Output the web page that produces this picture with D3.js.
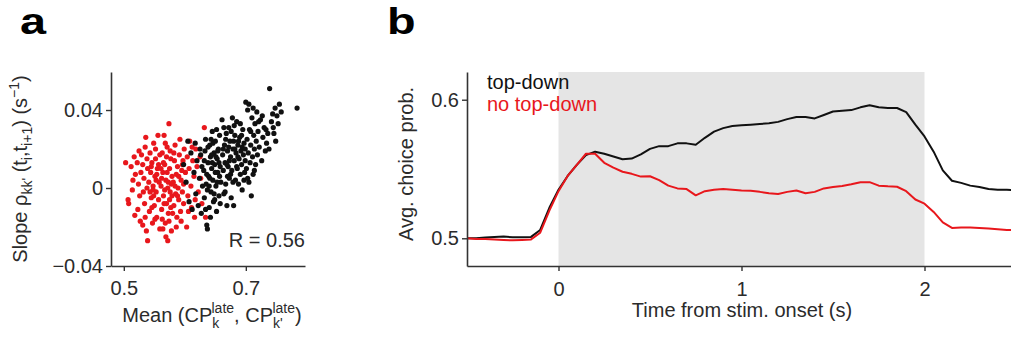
<!DOCTYPE html>
<html><head><meta charset="utf-8">
<script src="https://cdn.jsdelivr.net/npm/d3@7"></script>
<style>
html,body{margin:0;padding:0;background:#fff;}
svg text{font-family:"Liberation Sans",Arial,sans-serif;fill:#2b2b2b;}
</style></head>
<body><svg id="c" width="1011" height="338"></svg>
<script>
// ---------- Panel a data ----------
const redPoints = [
[0.503,0.013],[0.507,-0.006],[0.508,-0.008],[0.512,0.011],[0.515,0.004],[0.518,-0.014],[0.514,-0.001],[0.519,0.007],[0.517,0.016],
[0.522,0.013],[0.524,0.002],[0.526,-0.004],[0.523,-0.011],[0.528,0.008],[0.527,-0.017],[0.529,0.017],[0.531,0.012],[0.532,-0.002],[0.533,0.005],[0.534,-0.008],[0.535,0.021],[0.536,0.026],[0.537,-0.022],[0.538,0.000],[0.539,0.010],[0.535,-0.015],[0.531,-0.019],[0.525,0.019],[0.539,-0.027],[0.538,0.015],
[0.541,0.003],[0.542,-0.012],[0.543,0.018],[0.544,0.008],[0.545,-0.005],[0.546,0.013],[0.547,-0.018],[0.548,0.001],[0.549,0.023],[0.550,-0.009],[0.551,0.006],[0.552,0.015],[0.553,-0.002],[0.554,-0.015],[0.555,0.010],[0.556,0.027],[0.557,-0.006],[0.558,0.003],[0.559,-0.021],[0.545,0.011],[0.548,-0.001],[0.552,0.020],[0.543,-0.002],[0.557,0.012],[0.553,0.004],[0.551,-0.016],[0.559,0.017],[0.546,-0.010],[0.554,0.007],[0.549,-0.004],
[0.561,0.001],[0.562,-0.011],[0.563,0.018],[0.564,0.008],[0.565,-0.004],[0.566,0.027],[0.567,0.012],[0.568,-0.018],[0.569,0.004],[0.570,-0.008],[0.571,0.021],[0.572,0.000],[0.573,-0.013],[0.574,0.033],[0.575,0.010],[0.576,-0.002],[0.577,0.015],[0.578,-0.022],[0.579,0.006],[0.563,-0.016],[0.565,0.013],[0.567,-0.001],[0.569,-0.025],[0.571,0.008],[0.573,0.003],[0.575,-0.006],[0.577,-0.010],[0.562,0.005],[0.566,-0.008],[0.570,0.016],[0.574,-0.017],[0.578,0.002],[0.568,0.023],[0.564,-0.021],[0.576,0.019],[0.572,-0.027],[0.561,0.010],[0.579,-0.004],
[0.581,0.003],[0.582,-0.009],[0.583,0.014],[0.584,0.022],[0.585,-0.003],[0.586,0.007],[0.587,-0.015],[0.588,0.011],[0.589,0.000],[0.590,-0.006],[0.591,0.017],[0.592,0.025],[0.593,-0.012],[0.594,0.004],[0.595,0.009],[0.596,-0.002],[0.597,0.014],[0.598,-0.008],[0.599,0.020],[0.582,0.018],[0.586,-0.020],[0.588,-0.004],[0.590,0.006],[0.594,-0.017],[0.584,0.001],[0.596,0.012],[0.580,-0.013],[0.598,0.002],
[0.601,0.008],[0.603,-0.020],[0.604,0.016],[0.605,-0.004],[0.607,0.010],[0.608,0.024],[0.610,0.001],[0.611,-0.010],[0.613,0.014],[0.615,0.006],[0.617,-0.006],[0.618,0.020],[0.620,0.011],[0.622,-0.002],[0.625,0.016],[0.628,-0.008],[0.632,0.031],[0.634,-0.015],[0.626,0.005],[0.612,0.021],[0.606,-0.012],[0.616,-0.015]
];
const blackPoints = [
[0.598,0.012],[0.602,0.003],[0.605,0.024],[0.607,-0.007],[0.610,0.018],[0.612,-0.011],[0.615,0.008],[0.617,0.023],[0.618,-0.003],[0.620,0.014],[0.622,-0.009],[0.624,0.005],[0.625,0.020],[0.627,-0.013],[0.628,0.011],[0.629,0.001],[0.626,0.017],
[0.631,0.009],[0.632,-0.005],[0.633,0.019],[0.634,0.025],[0.635,0.002],[0.636,-0.019],[0.637,-0.021],[0.638,0.013],[0.639,0.006],[0.640,-0.010],[0.641,0.022],[0.642,0.016],[0.643,-0.002],[0.644,0.010],[0.645,0.029],[0.646,0.004],[0.647,-0.007],[0.648,0.018],[0.649,0.012],[0.650,0.024],[0.651,0.001],[0.652,-0.012],[0.653,0.015],[0.654,0.008],[0.655,0.020],[0.656,-0.004],[0.657,0.027],[0.658,0.011],[0.659,0.003],[0.632,0.014],[0.634,-0.011],[0.636,0.007],[0.638,0.021],[0.640,0.001],[0.642,-0.015],[0.644,0.017],[0.646,0.023],[0.648,-0.003],[0.650,0.008],[0.652,0.030],[0.654,0.019],[0.656,0.013],[0.658,-0.008],[0.637,-0.001],[0.641,0.005],[0.645,0.013],[0.649,-0.006],[0.653,0.003],[0.657,0.006],[0.643,0.025],[0.651,0.016],
[0.661,0.035],[0.662,0.017],[0.663,0.009],[0.664,-0.003],[0.665,0.022],[0.666,0.013],[0.667,0.002],[0.668,0.028],[0.669,-0.009],[0.670,0.019],[0.671,0.011],[0.672,0.031],[0.673,0.005],[0.674,0.024],[0.675,0.016],[0.676,-0.005],[0.677,0.009],[0.678,0.036],[0.679,0.020],[0.680,-0.009],[0.681,0.014],[0.682,0.027],[0.683,0.004],[0.684,0.018],[0.685,0.034],[0.686,0.010],[0.687,0.022],[0.688,0.002],[0.689,0.015],[0.690,0.026],[0.691,0.007],[0.692,0.019],[0.693,0.012],[0.694,-0.001],[0.695,0.030],[0.696,0.017],[0.697,0.023],[0.698,0.008],[0.699,0.014],[0.664,0.031],[0.667,0.025],[0.670,0.006],[0.673,0.014],[0.676,0.029],[0.679,0.003],[0.682,0.020],[0.685,0.011],[0.688,0.024],[0.691,0.033],[0.694,0.021],[0.697,0.004],[0.663,0.020],[0.669,0.012],[0.675,0.007],[0.681,0.032],[0.687,0.016],[0.693,0.027],[0.699,0.020],[0.680,0.024],[0.666,-0.002],[0.672,0.021],
[0.700,0.044],[0.701,0.010],[0.702,0.025],[0.703,0.040],[0.704,0.018],[0.705,0.003],[0.706,0.030],[0.707,0.013],[0.708,0.022],[0.709,-0.004],[0.710,0.036],[0.711,0.016],[0.712,0.007],[0.713,0.027],[0.714,0.020],[0.715,0.033],[0.716,0.012],[0.717,0.024],[0.718,0.039],[0.719,0.017],[0.720,0.029],[0.722,0.021],[0.724,0.035],[0.726,0.014],[0.728,0.026],[0.730,0.031],[0.732,0.019],[0.734,0.023],[0.736,0.028],[0.738,0.020],[0.705,0.043],[0.712,0.041],[0.703,0.005],[0.708,0.029],[0.714,0.009],[0.721,0.034],[0.727,0.037],[0.733,0.030],
[0.739,0.051],[0.742,0.034],[0.744,0.038],[0.746,0.028],[0.748,0.041],[0.749,0.024],[0.751,0.037],[0.753,0.033],[0.755,0.043],[0.758,0.039],[0.784,0.041],[0.745,0.031]
];
const aXTicks = [0.5, 0.7];
const aYTicks = [-0.04, 0, 0.04];
const rText = "R = 0.56";

// ---------- Panel b data ----------
const timeS = [-0.5,-0.45,-0.4,-0.35,-0.3,-0.25,-0.2,-0.15,-0.1,-0.05,0,0.05,0.1,0.15,0.2,0.25,0.3,0.35,0.4,0.45,0.5,0.55,0.6,0.65,0.7,0.75,0.8,0.85,0.9,0.95,1.0,1.05,1.1,1.15,1.2,1.25,1.3,1.35,1.4,1.45,1.5,1.55,1.6,1.65,1.7,1.75,1.8,1.85,1.9,1.95,2.0,2.05,2.1,2.15,2.2,2.25,2.3,2.35,2.4,2.45,2.5];
const topDown = [0.500,0.500,0.5005,0.501,0.5012,0.5008,0.5008,0.501,0.506,0.522,0.535,0.545,0.553,0.560,0.5625,0.561,0.559,0.557,0.5575,0.5605,0.5645,0.5665,0.5665,0.5685,0.5685,0.5675,0.5725,0.577,0.5795,0.581,0.5815,0.582,0.5825,0.583,0.584,0.586,0.5875,0.5875,0.5865,0.589,0.5915,0.592,0.5925,0.5945,0.596,0.5945,0.594,0.594,0.591,0.582,0.5735,0.5625,0.549,0.5415,0.540,0.538,0.537,0.5355,0.535,0.535,0.5345];
const noTopDown = [0.500,0.4995,0.4995,0.4992,0.4988,0.4985,0.4988,0.4992,0.504,0.520,0.534,0.545,0.553,0.561,0.561,0.5545,0.551,0.548,0.5465,0.5445,0.5448,0.542,0.538,0.536,0.5355,0.531,0.534,0.535,0.5355,0.535,0.5345,0.5343,0.5335,0.5325,0.532,0.5335,0.5345,0.5325,0.5335,0.536,0.537,0.5378,0.539,0.5405,0.5405,0.538,0.5375,0.5372,0.534,0.528,0.525,0.519,0.5115,0.5075,0.5077,0.5077,0.5075,0.507,0.5065,0.506,0.5058];
const bXTicks = [0, 1, 2];
const bYTicks = [0.5, 0.6];
const stimWindow = [0, 2];
const seriesNames = ["top-down", "no top-down"];

const RED = "#e8171c", BLACK = "#111111", AX = "#333333";
const svg = d3.select("#c");

// ---------------- Panel a ----------------
const xA = d3.scaleLinear().domain([0.479, 0.797]).range([111, 305]);
const yA = d3.scaleLinear().domain([-0.04, 0.0595]).range([266, 72]);

const gA = svg.append("g");
gA.append("g").selectAll("circle").data(redPoints).join("circle")
  .attr("cx", d => xA(d[0])).attr("cy", d => yA(d[1])).attr("r", 2.6).attr("fill", RED);
gA.append("g").selectAll("circle").data(blackPoints).join("circle")
  .attr("cx", d => xA(d[0])).attr("cy", d => yA(d[1])).attr("r", 2.6).attr("fill", BLACK);

function styleAxis(g){
  g.selectAll("path.domain").attr("stroke", AX).attr("stroke-width", 1.6);
  g.selectAll(".tick line").attr("stroke", AX).attr("stroke-width", 1.4);
  g.selectAll(".tick text").attr("font-size", 20).attr("fill", "#2b2b2b")
   .style("font-family", "'Liberation Sans', Arial, sans-serif");
}
gA.append("g").attr("transform", "translate(0,266)")
  .call(d3.axisBottom(xA).tickValues(aXTicks).tickFormat(d3.format(".1f")).tickSizeInner(5).tickSizeOuter(0).tickPadding(10))
  .call(styleAxis);
gA.append("g").attr("transform", "translate(111,0)")
  .call(d3.axisLeft(yA).tickValues(aYTicks).tickFormat(d => d === 0 ? "0" : d3.format(".2f")(d).replace("-", "\u2212")).tickSizeInner(5).tickSizeOuter(0).tickPadding(3))
  .call(styleAxis);

gA.append("text").attr("x", 305).attr("y", 247).attr("text-anchor", "end").attr("font-size", 20).text(rText);

// y label a
const yla = gA.append("text").attr("transform", "translate(27,169) rotate(-90)").attr("text-anchor", "middle").attr("font-size", 20);
yla.append("tspan").text("Slope \u03C1");
yla.append("tspan").attr("font-size", 14).attr("dy", 5).text("kk'");
yla.append("tspan").attr("dy", -5).text(" (t");
yla.append("tspan").attr("font-size", 14).attr("dy", 5).text("i");
yla.append("tspan").attr("dy", -5).text(",t");
yla.append("tspan").attr("font-size", 14).attr("dy", 5).text("i+1");
yla.append("tspan").attr("dy", -5).text(") (s");
yla.append("tspan").attr("font-size", 14).attr("dy", -8).text("\u22121");
yla.append("tspan").attr("dy", 8).text(")");

// x label a
const xla = gA.append("text").attr("x", 212).attr("y", 322).attr("text-anchor", "middle").attr("font-size", 20);
xla.append("tspan").text("Mean (CP");
xla.append("tspan").attr("font-size", 14).attr("dy", 6).text("k");
xla.append("tspan").attr("font-size", 14).attr("dy", -15).attr("dx", -7.8).text("late");
xla.append("tspan").attr("dy", 9).text(", CP");
xla.append("tspan").attr("font-size", 14).attr("dy", 6).text("k'");
xla.append("tspan").attr("font-size", 14).attr("dy", -15).attr("dx", -10.2).text("late");
xla.append("tspan").attr("dy", 9).text(")");

svg.append("text").attr("transform", "translate(20,34) scale(1.3,1)").attr("font-size", 36).attr("font-weight", "bold").style("fill", "#000").text("a");

// ---------------- Panel b ----------------
const xB = d3.scaleLinear().domain([-0.5, 2.5]).range([467, 1016]);
const yB = d3.scaleLinear().domain([0.48, 0.62]).range([266, 72]);
const gB = svg.append("g");
gB.append("rect").attr("x", xB(stimWindow[0])).attr("y", yB(0.62))
  .attr("width", xB(stimWindow[1]) - xB(stimWindow[0])).attr("height", yB(0.48) - yB(0.62))
  .attr("fill", "#e5e5e5");

const line = d3.line().x((d, i) => xB(timeS[i])).y(d => yB(d));
gB.append("path").datum(topDown).attr("d", line).attr("fill", "none").attr("stroke", BLACK).attr("stroke-width", 2).attr("stroke-linejoin", "round");
gB.append("path").datum(noTopDown).attr("d", line).attr("fill", "none").attr("stroke", RED).attr("stroke-width", 2).attr("stroke-linejoin", "round");

gB.append("g").attr("transform", "translate(0,266)")
  .call(d3.axisBottom(xB).tickValues(bXTicks).tickFormat(d3.format("d")).tickSizeInner(5).tickSizeOuter(0).tickPadding(11))
  .call(styleAxis);
gB.append("g").attr("transform", "translate(467,0)")
  .call(d3.axisLeft(yB).tickValues(bYTicks).tickFormat(d3.format(".1f")).tickSizeInner(5).tickSizeOuter(0).tickPadding(3))
  .call(styleAxis);

gB.append("text").attr("x", 487).attr("y", 89).attr("font-size", 20).style("fill", "#111").text(seriesNames[0]);
gB.append("text").attr("x", 487).attr("y", 111).attr("font-size", 20).style("fill", RED).text(seriesNames[1]);

gB.append("text").attr("transform", "translate(413,164) rotate(-90)").attr("text-anchor", "middle").attr("font-size", 20).text("Avg. choice prob.");
gB.append("text").attr("x", 742).attr("y", 317).attr("text-anchor", "middle").attr("font-size", 20).text("Time from stim. onset (s)");

svg.append("text").attr("transform", "translate(387,34) scale(1.3,1)").attr("font-size", 36).attr("font-weight", "bold").style("fill", "#000").text("b");
</script></body></html>
